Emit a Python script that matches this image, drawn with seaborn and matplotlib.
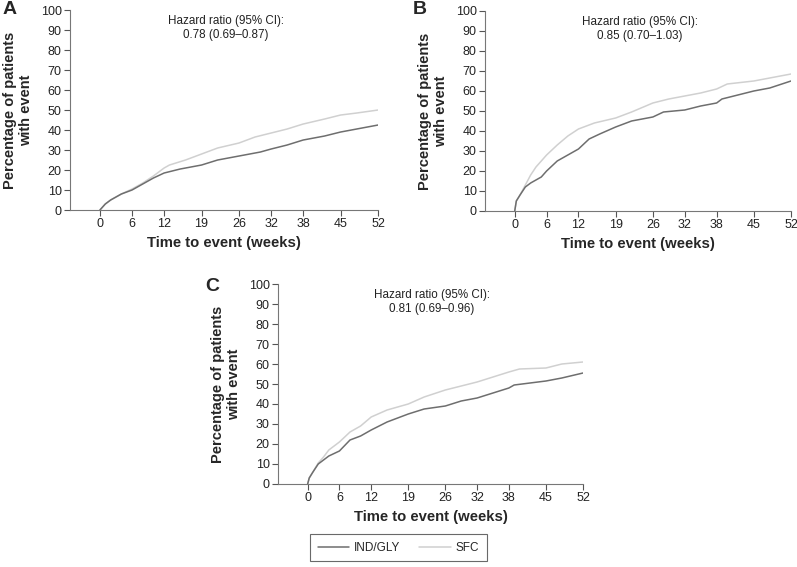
import matplotlib
matplotlib.use("Agg")
import matplotlib.pyplot as plt
from matplotlib.lines import Line2D
import pandas as pd
import seaborn as sns

sns.set_style("ticks")
plt.rcParams['font.family'] = ['Liberation Sans', 'DejaVu Sans']

# Datos (semanas, % de pacientes con evento)
week_ticks = [0, 6, 12, 19, 26, 32, 38, 45, 52]

a_t_ind = [0, 1, 2, 4, 6, 8, 10, 12, 15, 19, 22, 26, 30, 32, 35, 38, 42, 45, 48, 52]
a_y_ind = [0, 3, 5, 8, 10, 13, 16, 18.5, 20.5, 22.5, 25, 27, 29, 30.5, 32.5, 35, 37, 39, 40.5, 42.5]
a_t_sfc = [0, 1, 2, 4, 6, 8, 10, 12, 13, 16, 19, 22, 26, 29, 32, 35, 38, 42, 45, 48, 52]
a_y_sfc = [0, 3, 5, 8, 10.5, 13.5, 17, 21, 22.5, 25, 28, 31, 33.5, 36.5, 38.5, 40.5, 43, 45.5, 47.5, 48.5, 50]

b_t_ind = [0, 0.3, 1, 2, 3, 4, 5, 6, 8, 10, 12, 14, 16, 19, 22, 26, 28, 32, 35, 38, 39, 42, 45, 48, 52]
b_y_ind = [0, 5, 8, 12, 14, 15.5, 17, 20, 25, 28, 31, 36, 38.5, 42, 45, 47, 49.5, 50.5, 52.5, 54, 56, 58, 60, 61.5, 65]
b_t_sfc = [0, 0.3, 1, 2, 3, 4, 6, 8, 10, 12, 15, 19, 22, 26, 29, 32, 35, 38, 40, 45, 48, 52]
b_y_sfc = [0, 5, 8, 13, 18, 22, 28, 33, 37.5, 41, 44, 46.5, 49.5, 54, 56, 57.5, 59, 61, 63.5, 65, 66.5, 68.5]

c_t_ind = [0, 0.3, 1, 2, 3, 4, 6, 8, 10, 12, 15, 19, 22, 26, 29, 32, 35, 38, 39, 42, 45, 48, 52]
c_y_ind = [0, 3, 6, 10, 12, 14, 16.5, 22, 24, 27, 31, 35, 37.5, 39, 41.5, 43, 45.5, 48, 49.5, 50.5, 51.5, 53, 55.5]
c_t_sfc = [0, 0.3, 1, 2, 3, 4, 6, 8, 10, 12, 15, 19, 22, 26, 29, 32, 35, 38, 40, 45, 48, 52]
c_y_sfc = [0, 3, 6, 10.5, 13.5, 17, 21, 26, 29, 33.5, 37, 40, 43.5, 47, 49, 51, 53.5, 56, 57.5, 58, 60, 61]

hazard_texts = ["Hazard ratio (95% CI):\n0.78 (0.69\u20130.87)",
                "Hazard ratio (95% CI):\n0.85 (0.70\u20131.03)",
                "Hazard ratio (95% CI):\n0.81 (0.69\u20130.96)"]
panel_letters = ["A", "B", "C"]
groups = ["IND/GLY", "SFC"]
colores = {"IND/GLY": "#6e6e6e", "SFC": "#d0d0d0"}

fig = plt.figure(figsize=(7.97, 5.67), dpi=100)
posiciones = [
    [0.0878, 0.6296, 0.3865, 0.3527],
    [0.6085, 0.6279, 0.3840, 0.3527],
    [0.3488, 0.1464, 0.3827, 0.3527],
]
datos = [
    (a_t_ind, a_y_ind, a_t_sfc, a_y_sfc),
    (b_t_ind, b_y_ind, b_t_sfc, b_y_sfc),
    (c_t_ind, c_y_ind, c_t_sfc, c_y_sfc),
]
letra_pos = [(0.003, 0.999), (0.518, 0.999), (0.257, 0.510)]

for i in range(3):
    pos = posiciones[i]
    ax = fig.add_axes(pos)
    t1, y1, t2, y2 = datos[i]
    df = pd.concat([
        pd.DataFrame({"t": t1, "y": y1, "grupo": "IND/GLY"}),
        pd.DataFrame({"t": t2, "y": y2, "grupo": "SFC"}),
    ])
    sns.lineplot(data=df, x="t", y="y", hue="grupo", palette=colores,
                 hue_order=["SFC", "IND/GLY"], linewidth=1.1, ax=ax, legend=False)
    ax.set_xlim(-5.6, 52)
    ax.set_ylim(0, 100)
    ax.set_xticks(week_ticks)
    ax.set_yticks(range(0, 101, 10))
    ax.tick_params(labelsize=9, length=4, width=0.8, color="#555555", pad=2,
                   labelcolor="#222222")
    for s in ["top", "right"]:
        ax.spines[s].set_visible(False)
    for s in ["left", "bottom"]:
        ax.spines[s].set_color("#777777")
        ax.spines[s].set_linewidth(0.8)
    ax.set_xlabel("Time to event (weeks)", fontsize=10.7, fontweight="bold", labelpad=4)
    ax.set_ylabel("")
    # etiqueta Y con las dos líneas centradas
    fig.text(pos[0] - 52 / 797, pos[1] + pos[3] / 2, "Percentage of patients\nwith event",
             rotation=90, ha="center", va="center", multialignment="center",
             fontsize=10.5, fontweight="bold", linespacing=1.15)
    ax.text(23.5, 97.5, hazard_texts[i], ha="center", va="top", fontsize=8.4,
            linespacing=1.2, color="#222222")
    fig.text(letra_pos[i][0], letra_pos[i][1], panel_letters[i], fontsize=14,
             fontweight="bold", ha="left", va="top")

handles = [Line2D([], [], color=colores[g], linewidth=1.1) for g in groups]
leg = fig.legend(handles, groups, loc="center", bbox_to_anchor=(0.5, 0.034), ncol=2,
                 fontsize=8.5, frameon=True, fancybox=False, handlelength=2.7,
                 handletextpad=0.4, columnspacing=1.6, borderpad=0.65)
leg.get_frame().set_edgecolor("#444444")
leg.get_frame().set_linewidth(0.8)

fig.savefig("out.png", dpi=100)
